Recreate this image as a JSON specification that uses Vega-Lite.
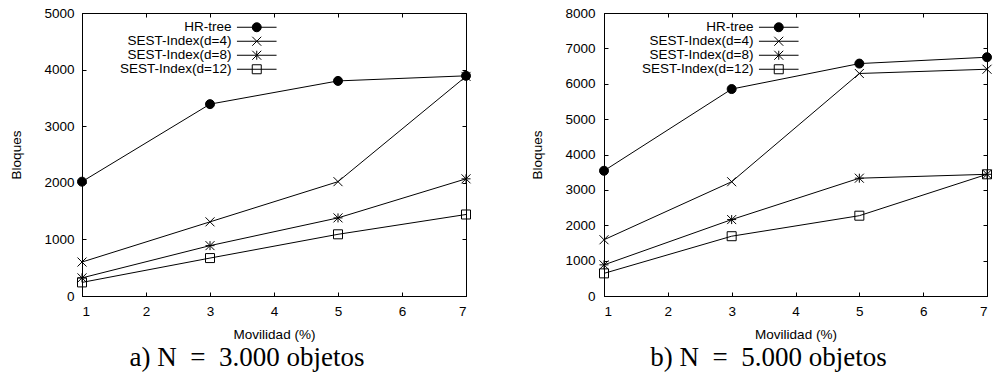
{
  "$schema": "https://vega.github.io/schema/vega-lite/v6.json",
  "background": "white",
  "padding": {"left": 9, "top": 5, "right": 5, "bottom": 2},
  "datasets": {
    "a": [
      {"mov": 1, "bloques": 2020, "serie": "HR-tree"},
      {"mov": 3, "bloques": 3390, "serie": "HR-tree"},
      {"mov": 5, "bloques": 3800, "serie": "HR-tree"},
      {"mov": 7, "bloques": 3890, "serie": "HR-tree"},
      {"mov": 1, "bloques": 600, "serie": "SEST-Index(d=4)"},
      {"mov": 3, "bloques": 1310, "serie": "SEST-Index(d=4)"},
      {"mov": 5, "bloques": 2020, "serie": "SEST-Index(d=4)"},
      {"mov": 7, "bloques": 3880, "serie": "SEST-Index(d=4)"},
      {"mov": 1, "bloques": 320, "serie": "SEST-Index(d=8)"},
      {"mov": 3, "bloques": 890, "serie": "SEST-Index(d=8)"},
      {"mov": 5, "bloques": 1380, "serie": "SEST-Index(d=8)"},
      {"mov": 7, "bloques": 2070, "serie": "SEST-Index(d=8)"},
      {"mov": 1, "bloques": 240, "serie": "SEST-Index(d=12)"},
      {"mov": 3, "bloques": 670, "serie": "SEST-Index(d=12)"},
      {"mov": 5, "bloques": 1090, "serie": "SEST-Index(d=12)"},
      {"mov": 7, "bloques": 1440, "serie": "SEST-Index(d=12)"}
    ],
    "b": [
      {"mov": 1, "bloques": 3540, "serie": "HR-tree"},
      {"mov": 3, "bloques": 5850, "serie": "HR-tree"},
      {"mov": 5, "bloques": 6570, "serie": "HR-tree"},
      {"mov": 7, "bloques": 6750, "serie": "HR-tree"},
      {"mov": 1, "bloques": 1590, "serie": "SEST-Index(d=4)"},
      {"mov": 3, "bloques": 3230, "serie": "SEST-Index(d=4)"},
      {"mov": 5, "bloques": 6290, "serie": "SEST-Index(d=4)"},
      {"mov": 7, "bloques": 6410, "serie": "SEST-Index(d=4)"},
      {"mov": 1, "bloques": 880, "serie": "SEST-Index(d=8)"},
      {"mov": 3, "bloques": 2160, "serie": "SEST-Index(d=8)"},
      {"mov": 5, "bloques": 3330, "serie": "SEST-Index(d=8)"},
      {"mov": 7, "bloques": 3440, "serie": "SEST-Index(d=8)"},
      {"mov": 1, "bloques": 640, "serie": "SEST-Index(d=12)"},
      {"mov": 3, "bloques": 1690, "serie": "SEST-Index(d=12)"},
      {"mov": 5, "bloques": 2270, "serie": "SEST-Index(d=12)"},
      {"mov": 7, "bloques": 3440, "serie": "SEST-Index(d=12)"}
    ]
  },
  "config": {
    "font": "Liberation Sans",
    "view": {"stroke": "black", "strokeWidth": 1},
    "axis": {
      "grid": false,
      "domainColor": "black",
      "domainWidth": 1,
      "tickColor": "black",
      "tickWidth": 1,
      "labelFont": "Liberation Sans",
      "labelFontSize": 13.5,
      "labelColor": "black",
      "titleFont": "Liberation Sans",
      "titleFontSize": 13.5,
      "titleFontWeight": "normal",
      "titleColor": "black",
      "format": "d"
    },
    "legend": {
      "labelFont": "Liberation Sans",
      "labelFontSize": 13.5,
      "labelColor": "black",
      "labelLimit": 400
    },
    "title": {"font": "Liberation Serif", "fontSize": 27, "fontWeight": "normal", "color": "black"}
  },
  "bounds": "flush",
  "spacing": 138,
  "resolve": {"scale": {"shape": "independent", "fill": "independent", "stroke": "independent"}, "legend": {"shape": "independent", "fill": "independent", "stroke": "independent"}},
  "hconcat": [
    {
      "width": 384,
      "height": 283,
      "title": {"text": "a) N\u2002=\u20023.000 objetos", "orient": "bottom", "anchor": "middle", "frame": "group", "dx": -27, "offset": 4},
      "data": {"name": "a"},
      "layer": [
        {
          "mark": {"type": "line", "color": "black", "strokeWidth": 1},
          "encoding": {
            "x": {"field": "mov", "type": "quantitative", "scale": {"domain": [1, 7], "nice": false},
                  "axis": {"orient": "bottom", "title": "Movilidad (%)", "values": [1, 2, 3, 4, 5, 6, 7], "tickSize": -4, "labelPadding": 12, "titlePadding": 10}},
            "y": {"field": "bloques", "type": "quantitative", "scale": {"domain": [0, 5000], "nice": false},
                  "axis": {"orient": "left", "title": "Bloques", "values": [0, 1000, 2000, 3000, 4000, 5000], "tickSize": -4, "labelPadding": 12, "titlePadding": 20}},
            "detail": {"field": "serie"}
          }
        },
        {
          "mark": {"type": "point", "filled": true, "stroke": "black", "strokeWidth": 1, "size": 81, "opacity": 1},
          "encoding": {
            "x": {"field": "mov", "type": "quantitative", "scale": {"domain": [1, 7], "nice": false},
                  "axis": {"orient": "top", "title": null, "labels": false, "domain": false, "values": [1, 2, 3, 4, 5, 6, 7], "tickSize": -4}},
            "y": {"field": "bloques", "type": "quantitative", "scale": {"domain": [0, 5000], "nice": false},
                  "axis": {"orient": "right", "title": null, "labels": false, "domain": false, "values": [0, 1000, 2000, 3000, 4000, 5000], "tickSize": -4}},
            "shape": {"field": "serie", "type": "nominal",
                      "scale": {"domain": ["SEST-Index(d=12)", "HR-tree", "SEST-Index(d=4)", "SEST-Index(d=8)"],
                                "range": ["M-1,-1L1,-1L1,1L-1,1Z", "circle", "M-1,-1L1,1M-1,1L1,-1", "M-1,-1L1,1M-1,1L1,-1M-1,0L1,0M0,-1L0,1"]},
                      "legend": null},
            "fill": {"condition": {"test": "datum.serie === 'HR-tree'", "value": "black"}, "value": "transparent"}
          }
        },
        {
          "transform": [{"filter": "datum.bloques < 0"}],
          "mark": {"type": "point", "filled": true, "stroke": "black", "strokeWidth": 1, "size": 81, "opacity": 1},
          "encoding": {
            "x": {"field": "mov", "type": "quantitative", "axis": null},
            "y": {"field": "bloques", "type": "quantitative", "axis": null},
            "shape": {"field": "serie", "type": "nominal",
                      "scale": {"domain": ["HR-tree", "SEST-Index(d=4)", "SEST-Index(d=8)", "SEST-Index(d=12)"],
                                "range": [
                                  "M-4.4,0L4.4,0M1,0C1,0.5523,0.5523,1,0,1C-0.5523,1,-1,0.5523,-1,0C-1,-0.5523,-0.5523,-1,0,-1C0.5523,-1,1,-0.5523,1,0Z",
                                  "M-4.4,0L4.4,0M-1,-1L1,1M-1,1L1,-1",
                                  "M-4.4,0L4.4,0M-1,-1L1,1M-1,1L1,-1M0,-1L0,1",
                                  "M-4.4,0L4.4,0M-1,-1L1,-1L1,1L-1,1Z"]},
                      "legend": {
                        "title": null, "orient": "none", "legendX": 168, "legendY": 7.5,
                        "labelAlign": "right", "labelOffset": -32, "rowPadding": -4, "symbolSize": 81, "symbolStrokeWidth": 1
                      }},
            "fill": {"field": "serie", "type": "nominal",
                     "scale": {"domain": ["HR-tree", "SEST-Index(d=4)", "SEST-Index(d=8)", "SEST-Index(d=12)"], "range": ["black", "transparent", "transparent", "transparent"]},
                     "legend": {
                        "title": null, "orient": "none", "legendX": 168, "legendY": 7.5,
                        "labelAlign": "right", "labelOffset": -32, "rowPadding": -4, "symbolSize": 81, "symbolStrokeWidth": 1
                      }},
            "stroke": {"field": "serie", "type": "nominal",
                     "scale": {"domain": ["HR-tree", "SEST-Index(d=4)", "SEST-Index(d=8)", "SEST-Index(d=12)"], "range": ["black", "black", "black", "black"]},
                     "legend": {
                        "title": null, "orient": "none", "legendX": 168, "legendY": 7.5,
                        "labelAlign": "right", "labelOffset": -32, "rowPadding": -4, "symbolSize": 81, "symbolStrokeWidth": 1
                      }}
          }
        }
      ],
      "resolve": {"axis": {"x": "independent", "y": "independent"}, "scale": {"shape": "independent"}, "legend": {"shape": "independent", "fill": "independent", "stroke": "independent"}}
    },
    {
      "width": 383,
      "height": 283,
      "title": {"text": "b) N\u2002=\u20025.000 objetos", "orient": "bottom", "anchor": "middle", "frame": "group", "dx": -27, "offset": 4},
      "data": {"name": "b"},
      "layer": [
        {
          "mark": {"type": "line", "color": "black", "strokeWidth": 1},
          "encoding": {
            "x": {"field": "mov", "type": "quantitative", "scale": {"domain": [1, 7], "nice": false},
                  "axis": {"orient": "bottom", "title": "Movilidad (%)", "values": [1, 2, 3, 4, 5, 6, 7], "tickSize": -4, "labelPadding": 12, "titlePadding": 10}},
            "y": {"field": "bloques", "type": "quantitative", "scale": {"domain": [0, 8000], "nice": false},
                  "axis": {"orient": "left", "title": "Bloques", "values": [0, 1000, 2000, 3000, 4000, 5000, 6000, 7000, 8000], "tickSize": -4, "labelPadding": 13, "titlePadding": 20}},
            "detail": {"field": "serie"}
          }
        },
        {
          "mark": {"type": "point", "filled": true, "stroke": "black", "strokeWidth": 1, "size": 81, "opacity": 1},
          "encoding": {
            "x": {"field": "mov", "type": "quantitative", "scale": {"domain": [1, 7], "nice": false},
                  "axis": {"orient": "top", "title": null, "labels": false, "domain": false, "values": [1, 2, 3, 4, 5, 6, 7], "tickSize": -4}},
            "y": {"field": "bloques", "type": "quantitative", "scale": {"domain": [0, 8000], "nice": false},
                  "axis": {"orient": "right", "title": null, "labels": false, "domain": false, "values": [0, 1000, 2000, 3000, 4000, 5000, 6000, 7000, 8000], "tickSize": -4}},
            "shape": {"field": "serie", "type": "nominal",
                      "scale": {"domain": ["SEST-Index(d=12)", "HR-tree", "SEST-Index(d=4)", "SEST-Index(d=8)"],
                                "range": ["M-1,-1L1,-1L1,1L-1,1Z", "circle", "M-1,-1L1,1M-1,1L1,-1", "M-1,-1L1,1M-1,1L1,-1M-1,0L1,0M0,-1L0,1"]},
                      "legend": null},
            "fill": {"condition": {"test": "datum.serie === 'HR-tree'", "value": "black"}, "value": "transparent"}
          }
        },
        {
          "transform": [{"filter": "datum.bloques < 0"}],
          "mark": {"type": "point", "filled": true, "stroke": "black", "strokeWidth": 1, "size": 81, "opacity": 1},
          "encoding": {
            "x": {"field": "mov", "type": "quantitative", "axis": null},
            "y": {"field": "bloques", "type": "quantitative", "axis": null},
            "shape": {"field": "serie", "type": "nominal",
                      "scale": {"domain": ["HR-tree", "SEST-Index(d=4)", "SEST-Index(d=8)", "SEST-Index(d=12)"],
                                "range": [
                                  "M-4.4,0L4.4,0M1,0C1,0.5523,0.5523,1,0,1C-0.5523,1,-1,0.5523,-1,0C-1,-0.5523,-0.5523,-1,0,-1C0.5523,-1,1,-0.5523,1,0Z",
                                  "M-4.4,0L4.4,0M-1,-1L1,1M-1,1L1,-1",
                                  "M-4.4,0L4.4,0M-1,-1L1,1M-1,1L1,-1M0,-1L0,1",
                                  "M-4.4,0L4.4,0M-1,-1L1,-1L1,1L-1,1Z"]},
                      "legend": {
                        "title": null, "orient": "none", "legendX": 168, "legendY": 7.5,
                        "labelAlign": "right", "labelOffset": -32, "rowPadding": -4, "symbolSize": 81, "symbolStrokeWidth": 1
                      }},
            "fill": {"field": "serie", "type": "nominal",
                     "scale": {"domain": ["HR-tree", "SEST-Index(d=4)", "SEST-Index(d=8)", "SEST-Index(d=12)"], "range": ["black", "transparent", "transparent", "transparent"]},
                     "legend": {
                        "title": null, "orient": "none", "legendX": 168, "legendY": 7.5,
                        "labelAlign": "right", "labelOffset": -32, "rowPadding": -4, "symbolSize": 81, "symbolStrokeWidth": 1
                      }},
            "stroke": {"field": "serie", "type": "nominal",
                     "scale": {"domain": ["HR-tree", "SEST-Index(d=4)", "SEST-Index(d=8)", "SEST-Index(d=12)"], "range": ["black", "black", "black", "black"]},
                     "legend": {
                        "title": null, "orient": "none", "legendX": 168, "legendY": 7.5,
                        "labelAlign": "right", "labelOffset": -32, "rowPadding": -4, "symbolSize": 81, "symbolStrokeWidth": 1
                      }}
          }
        }
      ],
      "resolve": {"axis": {"x": "independent", "y": "independent"}, "scale": {"shape": "independent"}, "legend": {"shape": "independent", "fill": "independent", "stroke": "independent"}}
    }
  ]
}
